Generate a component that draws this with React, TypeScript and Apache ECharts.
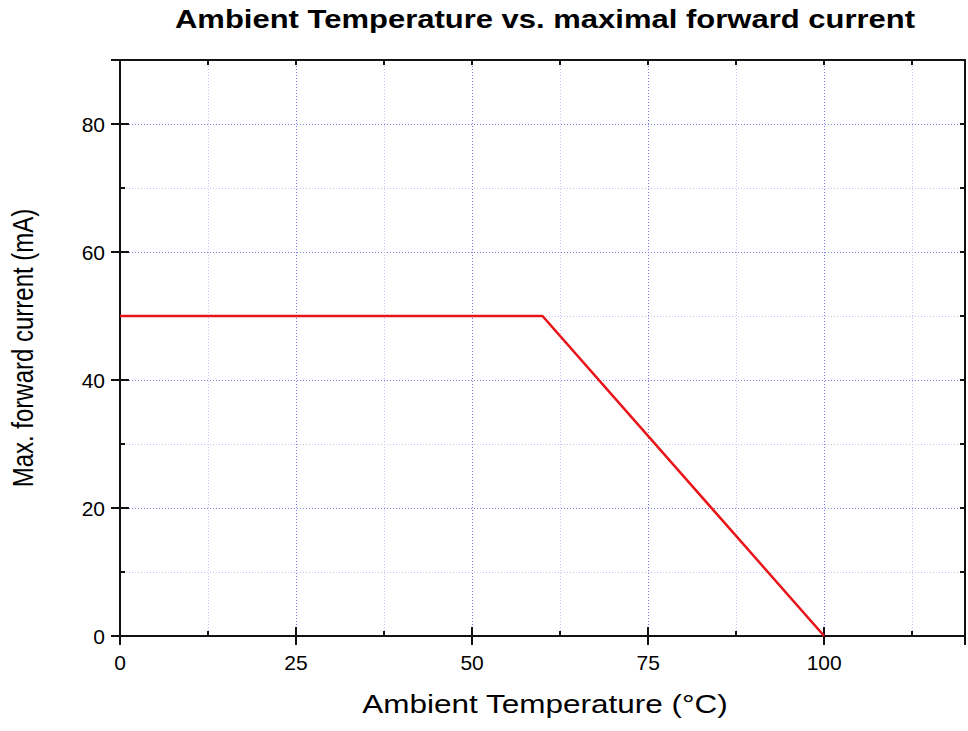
import React, { useEffect, useRef } from "react";
import * as echarts from "echarts";

const temperature = [0, 60, 100];
const maxCurrent = [50, 50, 0];
const titleText = "Ambient Temperature vs. maximal forward current";
const xName = "Ambient Temperature (°C)";
const yName = "Max. forward current (mA)";

export default function App() {
  const ref = useRef<HTMLDivElement>(null);
  useEffect(() => {
    if (!ref.current) return;
    const chart = echarts.init(ref.current, null, { renderer: "svg" });
    const font = "Arial, 'Liberation Sans', sans-serif";
    const minorSplit = { show: true, lineStyle: { color: "#c4c4f2", type: [1, 2] as any, width: 1 } };
    const majorSplit = { show: true, lineStyle: { color: "#7c7ce6", type: [1, 2] as any, width: 1 } };
    const axisLine = { show: true, onZero: false, lineStyle: { color: "#111", width: 2 } };
    const baseX = { type: "value" as const, min: 0, max: 120, gridIndex: 0 };
    const baseY = { type: "value" as const, min: 0, max: 90, gridIndex: 0 };
    const data = temperature.map((t, i) => [t, maxCurrent[i]]);
    const minorTick = { show: true, inside: true, length: 5, lineStyle: { color: "#111", width: 2 } };
    const majorTick = { show: true, inside: true, length: 9, lineStyle: { color: "#111", width: 2 } };
    chart.setOption({
      animation: false,
      backgroundColor: "#ffffff",
      graphic: [
        {
          type: "text",
          x: 545,
          y: 20,
          scaleX: 1.24,
          style: {
            text: titleText,
            fontFamily: font,
            fontWeight: "bold",
            fontSize: 25,
            fill: "#000",
            textAlign: "center",
            textVerticalAlign: "middle",
          },
        },
        {
          type: "text",
          x: 545,
          y: 704,
          scaleX: 1.26,
          style: {
            text: xName,
            fontFamily: font,
            fontSize: 25,
            fill: "#000",
            textAlign: "center",
            textVerticalAlign: "middle",
          },
        },
        {
          type: "text",
          x: 23,
          y: 348,
          rotation: Math.PI / 2,
          scaleY: 1.2,
          style: {
            text: yName,
            fontFamily: font,
            fontSize: 24,
            fill: "#000",
            textAlign: "center",
            textVerticalAlign: "middle",
          },
        },
      ],
      grid: { left: 120, right: 2, top: 60, bottom: 95, containLabel: false },
      xAxis: [
        {
          ...baseX,
          position: "bottom",
          interval: 12.5,
          axisLine,
          axisTick: minorTick,
          axisLabel: {
            margin: 16,
            fontFamily: font,
            fontSize: 21,
            color: "#000",
            formatter: (v: number) => (v % 25 === 0 ? String(v) : ""),
          },
          splitLine: minorSplit,
        },
        {
          ...baseX,
          position: "bottom",
          interval: 25,
          axisLine: { show: false },
          axisTick: majorTick,
          axisLabel: { show: false },
          splitLine: majorSplit,
        },
        {
          ...baseX,
          position: "top",
          interval: 12.5,
          axisLine,
          axisTick: minorTick,
          axisLabel: { show: false },
          splitLine: { show: false },
        },
        {
          ...baseX,
          position: "top",
          interval: 25,
          axisLine: { show: false },
          axisTick: majorTick,
          axisLabel: { show: false },
          splitLine: { show: false },
        },
      ],
      yAxis: [
        {
          ...baseY,
          position: "left",
          interval: 10,
          axisLine,
          axisTick: minorTick,
          axisLabel: {
            margin: 15,
            fontFamily: font,
            fontSize: 21,
            color: "#000",
            formatter: (v: number) => (v % 20 === 0 ? String(v) : ""),
          },
          splitLine: minorSplit,
        },
        {
          ...baseY,
          position: "left",
          interval: 20,
          axisLine: { show: false },
          axisTick: majorTick,
          axisLabel: { show: false },
          splitLine: majorSplit,
        },
        {
          ...baseY,
          position: "right",
          interval: 10,
          axisLine,
          axisTick: minorTick,
          axisLabel: { show: false },
          splitLine: { show: false },
        },
        {
          ...baseY,
          position: "right",
          interval: 20,
          axisLine: { show: false },
          axisTick: majorTick,
          axisLabel: { show: false },
          splitLine: { show: false },
        },
      ],
      series: [
        {
          type: "line",
          xAxisIndex: 0,
          yAxisIndex: 0,
          data,
          showSymbol: false,
          symbol: "none",
          lineStyle: { color: "#e8141a", width: 2.6 },
          z: 10,
        },
      ],
    });
    return () => chart.dispose();
  }, []);
  return (
    <div
      ref={ref}
      style={{ position: "fixed", left: 0, top: 0, width: 968, height: 731, background: "#fff" }}
    />
  );
}
